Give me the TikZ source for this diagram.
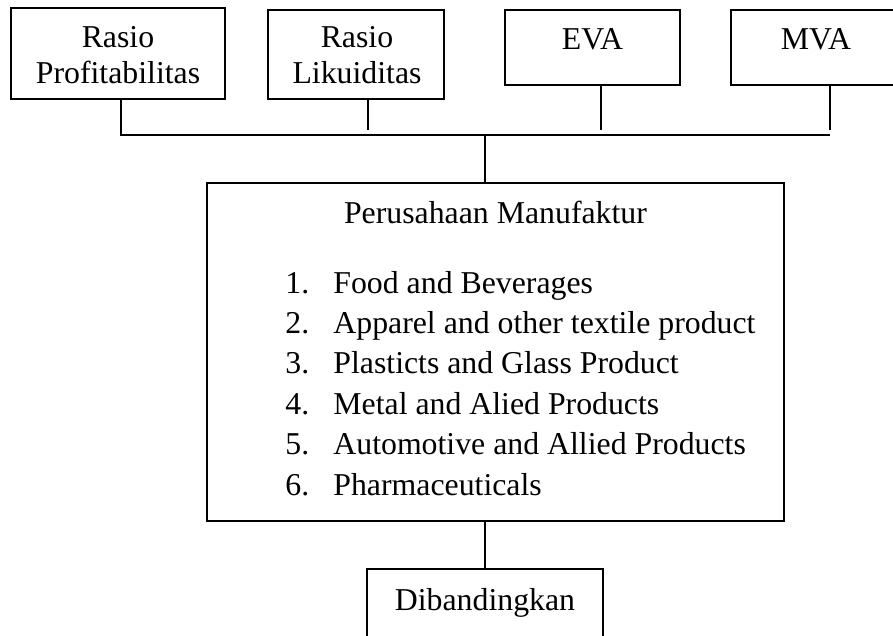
\documentclass[tikz,border=0pt]{standalone}
\usepackage{fontspec}
\setmainfont{Liberation Serif}
\usetikzlibrary{positioning,calc}

\begin{document}
\begin{tikzpicture}[x=0.5pt, y=-0.5pt,
    framebox/.style={rectangle, draw=black, line width=0.7pt, inner sep=0pt},
    txt/.style={inner sep=0pt, anchor=base, font=\fontsize{15.9}{19}\selectfont},
    wire/.style={draw=black, line width=0.7pt}
  ]
  \useasboundingbox (0,0) rectangle (893,636);
  \clip (0,0) rectangle (893,636);

  \node[framebox, minimum width=107pt,   minimum height=45.5pt]  (prof)    at (118,53.5)    {};
  \node[framebox, minimum width=88pt,    minimum height=44.5pt]  (likuid)  at (356,54.5)    {};
  \node[framebox, minimum width=87.5pt,  minimum height=37.5pt]  (eva)     at (592.5,47.5)  {};
  \node[framebox, minimum width=85pt,    minimum height=37.5pt]  (mva)     at (816,47.5)    {};
  \node[framebox, minimum width=288.5pt, minimum height=169pt]   (manuf)   at (495.5,352)   {};
  \node[framebox, minimum width=118pt,   minimum height=45.5pt]  (banding) at (485,614.5)   {};

  \node[txt] (prof-a) at (118,48) {Rasio};
  \node[txt] (prof-b) at (118,84) {Profitabilitas};
  \node[txt] (lik-a)  at (357,48) {Rasio};
  \node[txt] (lik-b)  at (357,84) {Likuiditas};
  \node[txt] (eva-t)  at (592.5,50) {EVA};
  \node[txt] (mva-t)  at (816,50) {MVA};
  \node[txt] (manuf-t) at (495.5,224) {Perusahaan Manufaktur};
  \foreach \num/\yy/\item in {1/293/Food and Beverages,
                              2/333.4/Apparel and other textile product,
                              3/373.8/Plasticts and Glass Product,
                              4/414.2/Metal and Alied Products,
                              5/454.6/Automotive and Allied Products,
                              6/495/Pharmaceuticals}{
    \node[txt, anchor=base west] (num\num)  at (285,\yy) {\num.};
    \node[txt, anchor=base west] (item\num) at (333,\yy) {\item};
  }
  \node[txt] (band-t) at (485,610) {Dibandingkan};

  % bus between the four measures and the sample
  \coordinate (bus1) at (121,135);
  \coordinate (bus4) at (830,135);
  \coordinate (hub)  at (485,135);
  \coordinate (stub2) at (368,130);
  \coordinate (stub3) at (601,130);
  \coordinate (stub4) at (830,130);

  \draw[wire] (prof.south -| bus1) -- (bus1) -- (bus4);
  \draw[wire] (likuid.south -| stub2) -- (stub2);
  \draw[wire] (eva.south -| stub3) -- (stub3);
  \draw[wire] (mva.south -| stub4) -- (stub4);
  \draw[wire] (hub) -- (hub |- manuf.north);
  \draw[wire] (manuf.south -| banding.north) -- (banding.north);
\end{tikzpicture}
\end{document}
